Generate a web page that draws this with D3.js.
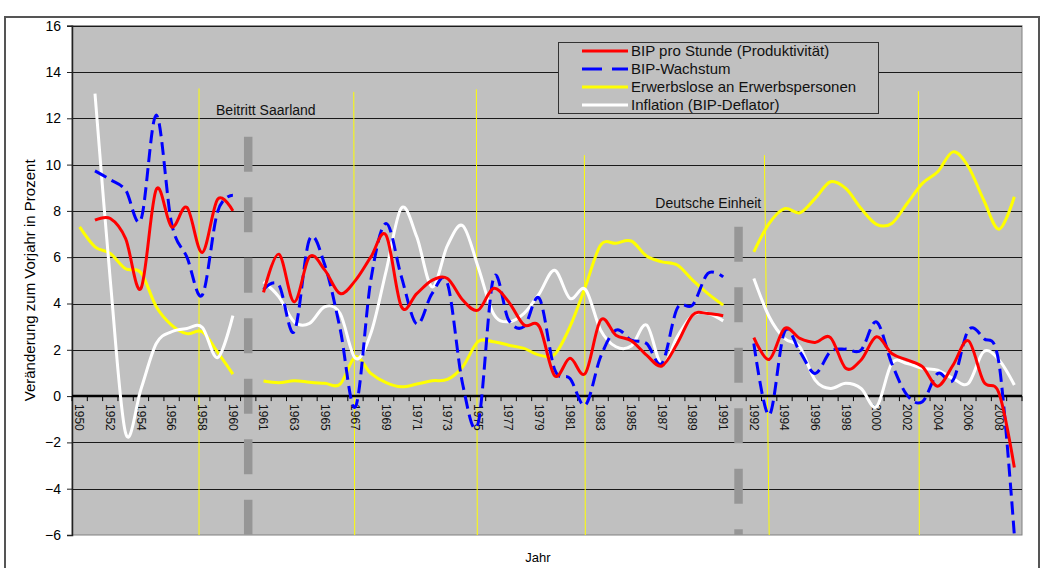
<!DOCTYPE html>
<html><head><meta charset="utf-8">
<script src="https://cdn.jsdelivr.net/npm/d3@7"></script>
<style>
html,body{margin:0;padding:0;background:#fff;}
svg{display:block;font-family:"Liberation Sans",Arial,sans-serif;}
</style></head>
<body>
<svg id="chart" width="1041" height="568"></svg>
<script>
// ---------- DATA ----------
const categories = ["1950","1951","1952","1953","1954","1955","1956","1957","1958","1959","1960","",
 "1961","1962","1963","1964","1965","1966","1967","1968","1969","1970","1971","1972","1973","1974","1975","1976","1977","1978","1979","1980","1981","1982","1983","1984","1985","1986","1987","1988","1989","1990","1991","",
 "1992","1993","1994","1995","1996","1997","1998","1999","2000","2001","2002","2003","2004","2005","2006","2007","2008","2009"];
// every second category carries a tick label
const tickLabels = categories.map((c,i)=> i%2===0 ? c : "");

const produktivitaet = [null,7.6,7.67,6.8,4.65,8.93,7.31,8.15,6.2,8.5,8.0,null,
 4.48,6.13,4.07,6.02,5.44,4.43,5.0,6.0,6.95,3.86,4.43,5.0,5.08,4.15,3.71,4.65,4.07,3.07,3.0,0.88,1.63,0.98,3.28,2.63,2.39,1.77,1.3,2.27,3.5,3.57,3.47,null,
 2.53,1.58,2.92,2.49,2.32,2.53,1.2,1.56,2.56,1.84,1.56,1.27,0.43,1.34,2.39,0.62,0.12,-3.08];
const wachstum = [null,9.73,9.35,8.9,7.63,12.14,7.46,6.0,4.36,7.96,8.68,null,
 4.6,4.8,2.78,6.77,5.66,2.9,-0.46,5.0,7.46,5.15,3.11,4.43,4.87,0.5,-1.18,5.08,3.28,3.0,4.22,1.15,0.76,-0.39,1.7,2.85,2.42,2.27,1.41,3.79,3.93,5.3,5.15,null,
 2.27,-0.82,2.78,1.92,0.98,1.92,2.03,1.99,3.21,1.41,0.04,-0.24,0.98,0.69,2.85,2.49,1.41,-6.0];
const erwerbslose = [7.31,6.45,6.16,5.5,5.33,3.86,3.07,2.7,2.78,1.9,0.95,null,
 0.65,0.58,0.66,0.6,0.55,0.52,1.7,0.98,0.58,0.4,0.52,0.66,0.72,1.27,2.35,2.35,2.2,2.06,1.77,1.8,3.0,4.72,6.52,6.6,6.7,6.05,5.8,5.66,5.01,4.43,3.93,null,
 6.23,7.46,8.1,7.92,8.54,9.26,8.97,8.1,7.42,7.46,8.32,9.19,9.69,10.55,9.91,8.47,7.21,8.61];
const inflation = [null,13.07,5.0,-1.6,0.3,2.27,2.78,2.92,2.97,1.66,3.48,null,
 4.94,4.29,3.21,3.14,3.86,3.57,1.63,2.7,5.4,8.13,6.88,4.72,6.5,7.36,5.59,3.57,3.21,3.57,4.43,5.44,4.22,4.61,2.85,2.13,2.16,3.07,1.34,2.56,3.5,3.57,3.25,null,
 5.08,3.43,2.49,2.13,0.69,0.33,0.55,0.33,-0.46,1.41,1.41,1.2,1.12,0.76,0.55,1.92,1.56,0.48];

const seriesNames = ["BIP pro Stunde (Produktivität)","BIP-Wachstum","Erwerbslose an Erwerbspersonen","Inflation (BIP-Deflator)"];
const yTicks = [-6,-4,-2,0,2,4,6,8,10,12,14,16];

// recession markers (fractional category index at top / bottom, top value) and structural breaks
const recessionAt  = [7.79,17.89,25.89,32.94,44.69,54.74];
const recessionAtBottom = [7.79,17.95,25.95,33.0,45.0,54.8];
const recessionTop = [13.29,13.14,13.25,10.41,10.41,13.17];
const breakAt  = [11,43];
const breakTop = [11.2,7.31];
const notes = ["Beitritt Saarland","Deutsche Einheit"];
const noteAt = [8.9,37.57];
const noteVal = [12.14,8.12];

// ---------- LAYOUT ----------
const svg = d3.select("#chart");
const L=72, R=1022, T=25.7, B=535;
const x = d3.scaleBand().domain(d3.range(categories.length)).range([L,R]).paddingInner(0).paddingOuter(0);
const xc = i => x.range()[0] + x.step()*(i+0.5);   // fractional category centre
const y = d3.scaleLinear().domain([-6,16]).range([B,T]);

// outer frame
svg.append("rect").attr("x",5).attr("y",17).attr("width",1034).attr("height",560)
  .attr("fill","#fff").attr("stroke","#555").attr("stroke-width",2);

// plot area
svg.append("rect").attr("x",L).attr("y",T).attr("width",R-L).attr("height",B-T)
  .attr("fill","#C0C0C0").attr("stroke","#808080").attr("stroke-width",1);

// gridlines
svg.append("g").selectAll("line").data(yTicks.filter(v=>v!==0 && v!==-6)).join("line")
  .attr("x1",L).attr("x2",R).attr("y1",d=>Math.round(y(d))+0.5).attr("y2",d=>Math.round(y(d))+0.5)
  .attr("stroke","#1a1a1a").attr("stroke-width",1);

// y axis
const yAxis = d3.axisLeft(y).tickValues(yTicks).tickSize(5).tickPadding(6);
const gy = svg.append("g").attr("transform",`translate(${L},0)`).call(yAxis);
gy.select(".domain").attr("stroke","#222").attr("stroke-width",1.5);
gy.selectAll(".tick line").attr("stroke","#222");
gy.selectAll(".tick text").attr("font-size",14).attr("fill","#000").attr("font-family","Liberation Sans, Arial, sans-serif");

// annotations: recession lines
svg.append("g").selectAll("line").data(recessionAt).join("line")
  .attr("x1",d=>xc(d)).attr("x2",(d,i)=>xc(recessionAtBottom[i]))
  .attr("y1",(d,i)=>y(recessionTop[i])).attr("y2",B)
  .attr("stroke","#FFFF00").attr("stroke-width",1);

// structural breaks
svg.append("g").selectAll("line").data(breakAt).join("line")
  .attr("x1",d=>xc(d)).attr("x2",d=>xc(d))
  .attr("y1",(d,i)=>y(breakTop[i])).attr("y2",B)
  .attr("stroke","#969696").attr("stroke-width",8.5).attr("stroke-dasharray","35,25.5");

// notes
svg.append("g").selectAll("text").data(notes).join("text")
  .attr("x",(d,i)=>xc(noteAt[i])).attr("y",(d,i)=>y(noteVal[i]))
  .attr("font-size",14).attr("fill","#111").text(d=>d);

// zero line + x ticks + labels
svg.append("line").attr("x1",L).attr("x2",R).attr("y1",y(0)).attr("y2",y(0))
  .attr("stroke","#000").attr("stroke-width",2.5);
svg.append("g").selectAll("line").data(d3.range(categories.length+1)).join("line")
  .attr("x1",d=>L+d*x.step()).attr("x2",d=>L+d*x.step())
  .attr("y1",y(0)).attr("y2",y(0)+5).attr("stroke","#000").attr("stroke-width",1);
svg.append("g").selectAll("text").data(tickLabels.map((t,i)=>({t,i})).filter(d=>d.t!=="")).join("text")
  .attr("transform",d=>`translate(${xc(d.i)},${y(0)+8}) rotate(90)`)
  .attr("dy","0.35em").attr("font-size",12).attr("fill","#111").text(d=>d.t);

// series lines
const line = d3.line().defined(d=>d.v!=null).x(d=>xc(d.i)).y(d=>y(d.v)).curve(d3.curveCardinal.tension(0));
const toPts = arr => arr.map((v,i)=>({i,v}));
const series = [
  {name:seriesNames[2], data:erwerbslose, color:"#FFFF00", dash:null},
  {name:seriesNames[3], data:inflation, color:"#FFFFFF", dash:null},
  {name:seriesNames[1], data:wachstum, color:"#0000FF", dash:"13,6"},
  {name:seriesNames[0], data:produktivitaet, color:"#FF0000", dash:null},
];
svg.append("clipPath").attr("id","pc").append("rect").attr("x",L).attr("y",T).attr("width",R-L).attr("height",B-T+2);
svg.append("g").attr("clip-path","url(#pc)").selectAll("path").data(series).join("path")
  .attr("d",d=>line(toPts(d.data))).attr("fill","none").attr("stroke",d=>d.color)
  .attr("stroke-width",3).attr("stroke-dasharray",d=>d.dash).attr("stroke-linejoin","round");

// legend
const lg = svg.append("g");
lg.append("rect").attr("x",558.5).attr("y",42.5).attr("width",320).attr("height",71)
  .attr("fill","#C0C0C0").attr("stroke","#333").attr("stroke-width",1);
const legendItems = [
  {name:seriesNames[0], color:"#FF0000", dash:null},
  {name:seriesNames[1], color:"#0000FF", dash:"20,10"},
  {name:seriesNames[2], color:"#FFFF00", dash:null},
  {name:seriesNames[3], color:"#FFFFFF", dash:null},
];
legendItems.forEach((d,i)=>{
  const yy = 51 + i*18;
  lg.append("line").attr("x1",582).attr("x2",628).attr("y1",yy).attr("y2",yy)
    .attr("stroke",d.color).attr("stroke-width",3).attr("stroke-dasharray",d.dash);
  lg.append("text").attr("x",631).attr("y",yy).attr("dy","0.35em").attr("font-size",15).attr("fill","#111").text(d.name);
});

// axis titles
svg.append("text").attr("x",538).attr("y",562).attr("text-anchor","middle").attr("font-size",13).attr("fill","#000").text("Jahr");
svg.append("text").attr("transform",`translate(34.5,${(T+B)/2}) rotate(-90)`).attr("text-anchor","middle")
  .attr("font-size",15).attr("fill","#000").text("Veränderung zum Vorjahr in Prozent");
</script>
</body></html>
